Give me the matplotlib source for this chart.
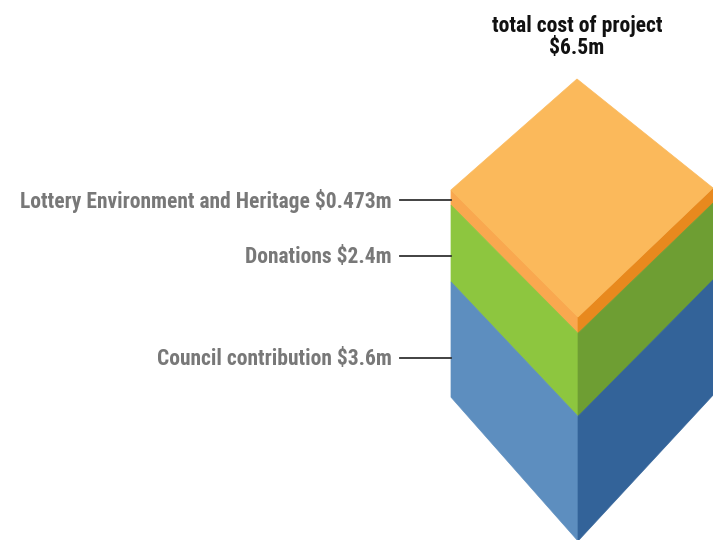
import matplotlib
matplotlib.use("Agg")
import matplotlib.pyplot as plt
from matplotlib.patches import Polygon

# ---- data ----
categories = ["Council contribution", "Donations", "Lottery Environment and Heritage"]
values = [3.6, 2.4, 0.473]          # $m, bottom to top
label_values = ["$3.6m", "$2.4m", "$0.473m"]
total_label = "$6.5m"
title = "total cost of project"

left_colors = ["#5D8EBF", "#8DC63F", "#F9A84F"]
right_colors = ["#336399", "#6E9E33", "#E8891E"]
top_color = "#FBB95B"

FONT = ["Roboto Condensed", "DejaVu Sans"]

W, H = 713, 540
fig = plt.figure(figsize=(W / 100, H / 100), dpi=100)
ax = fig.add_axes([0, 0, 1, 1])
ax.set_xlim(0, W)
ax.set_ylim(H, 0)
ax.axis("off")

# block geometry (pixel layout)
x_left, x_front, x_right = 451, 578, 713
top_left, top_front, top_right, top_back = 190, 317, 188, 79
scale_back = 32.0    # px per $m at back edges
scale_front = 34.6   # px per $m at front edge

order = list(range(len(values)))[::-1]
cum = 0.0
label_y = {}
for i in order:
    v = values[i]
    yl0 = top_left + cum * scale_back
    yl1 = top_left + (cum + v) * scale_back
    yf0 = top_front + cum * scale_front
    yf1 = top_front + (cum + v) * scale_front
    yr0 = top_right + cum * scale_back
    yr1 = top_right + (cum + v) * scale_back
    ax.add_patch(Polygon([(x_left, yl0), (x_front, yf0), (x_front, yf1), (x_left, yl1)],
                         closed=True, facecolor=left_colors[i], edgecolor=left_colors[i], lw=0.5))
    ax.add_patch(Polygon([(x_front, yf0), (x_right, yr0), (x_right, yr1), (x_front, yf1)],
                         closed=True, facecolor=right_colors[i], edgecolor=right_colors[i], lw=0.5))
    label_y[i] = yl0 + 0.66 * (yl1 - yl0)
    cum += v

ax.add_patch(Polygon([(577, top_back), (x_left, top_left), (x_front, top_front), (x_right, top_right)],
                     closed=True, facecolor=top_color, edgecolor=top_color, lw=0.5))

for i in range(len(values)):
    y = label_y[i]
    ax.plot([400, x_left], [y, y], color="#333333", lw=1.3)
    ax.text(392, y + 1, f"{categories[i]} {label_values[i]}", ha="right", va="center",
            fontsize=15.5, fontweight="bold", color="#787878", family=FONT)

ax.text(577, 26, title, ha="center", va="center", fontsize=15.6, fontweight="bold",
        color="#111111", family=FONT)
ax.text(577, 48, total_label, ha="center", va="center", fontsize=15.6, fontweight="bold",
        color="#111111", family=FONT)

fig.savefig("out.png", dpi=100)
